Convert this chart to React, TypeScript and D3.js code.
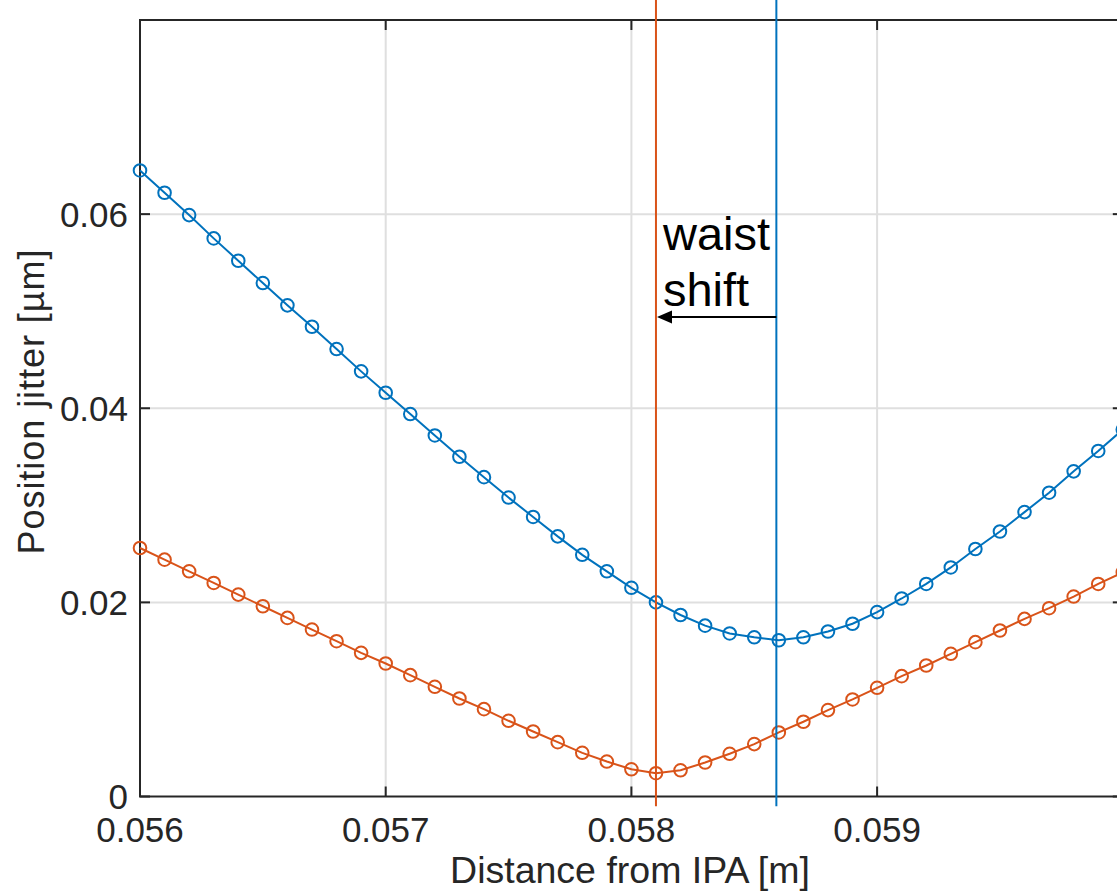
import React, { useEffect } from 'react';
import * as d3 from 'd3';

// distance from IPA [m]
const distances = [
  0.056, 0.0561, 0.0562, 0.0563, 0.0564, 0.0565, 0.0566, 0.0567, 0.0568, 0.0569,
  0.057, 0.0571, 0.0572, 0.0573, 0.0574, 0.0575, 0.0576, 0.0577, 0.0578, 0.0579,
  0.058, 0.0581, 0.0582, 0.0583, 0.0584, 0.0585, 0.0586, 0.0587, 0.0588, 0.0589,
  0.059, 0.0591, 0.0592, 0.0593, 0.0594, 0.0595, 0.0596, 0.0597, 0.0598, 0.0599,
  0.06,
];

// position jitter [µm]
const blueJitter = [
  0.0645, 0.0622, 0.0599, 0.0575, 0.0552, 0.0529, 0.0506, 0.0484, 0.0461, 0.0438,
  0.0416, 0.0394, 0.0372, 0.035, 0.0329, 0.0308, 0.0288, 0.0268, 0.0249, 0.0232,
  0.0215, 0.02, 0.0187, 0.0176, 0.0168, 0.0164, 0.0161, 0.0164, 0.017, 0.0178,
  0.019, 0.0204, 0.0219, 0.0236, 0.0255, 0.0273, 0.0293, 0.0313, 0.0335, 0.0356,
  0.0378,
];

const orangeJitter = [
  0.0256, 0.0244, 0.0232, 0.022, 0.0208, 0.0196, 0.0184, 0.0172, 0.016, 0.0148,
  0.0137, 0.0125, 0.0113, 0.0101, 0.009, 0.0078, 0.0067, 0.0056, 0.0045, 0.0036,
  0.0028, 0.0024, 0.0027, 0.0035, 0.0044, 0.0054, 0.0066, 0.0077, 0.0089, 0.01,
  0.0112, 0.0124, 0.0135, 0.0147, 0.0159, 0.0171, 0.0183, 0.0194, 0.0206, 0.0219,
  0.0231,
];

const xTicks = [0.056, 0.057, 0.058, 0.059];
const yTicks = [0, 0.02, 0.04, 0.06];

// waist positions (vertical lines) and arrow height
const orangeWaist = 0.0581;
const blueWaist = 0.05859;
const arrowY = 0.0494;

const BLUE = '#0072BD';
const ORANGE = '#D95319';
const AXIS = '#262626';
const FONT = '"Liberation Sans", Arial, Helvetica, sans-serif';

const W = 1117;
const H = 893;

export default function App() {
  useEffect(() => {
    document.body.style.margin = '0';
  }, []);

  const x = d3.scaleLinear().domain([0.056, 0.06]).range([140, 1122.8]);
  const y = d3.scaleLinear().domain([0, 0.08]).range([796.5, 20]);

  const [x0, x1] = x.range();
  const [y0, y1] = y.range();

  const line = d3
    .line<number>()
    .x((_, i) => x(distances[i]))
    .y((d) => y(d));

  const series = [
    { values: blueJitter, color: BLUE },
    { values: orangeJitter, color: ORANGE },
  ];

  const tick = 10;

  return (
    <svg width={W} height={H} style={{ display: 'block', background: '#fff' }} fontFamily={FONT}>
      {/* grid */}
      <g stroke="#dfdfdf" strokeWidth={2}>
        {xTicks.slice(1).map((t) => (
          <line key={'gx' + t} x1={x(t)} x2={x(t)} y1={y0} y2={y1} />
        ))}
        {yTicks.slice(1).map((t) => (
          <line key={'gy' + t} x1={x0} x2={x1} y1={y(t)} y2={y(t)} />
        ))}
      </g>

      {/* axes box */}
      <g stroke={AXIS} strokeWidth={2} fill="none">
        <rect x={x0} y={y1} width={x1 - x0} height={y0 - y1} />
        {xTicks.map((t) => (
          <g key={'tx' + t}>
            <line x1={x(t)} x2={x(t)} y1={y0} y2={y0 - tick} />
            <line x1={x(t)} x2={x(t)} y1={y1} y2={y1 + tick} />
          </g>
        ))}
        {yTicks.map((t) => (
          <g key={'ty' + t}>
            <line x1={x0} x2={x0 + tick} y1={y(t)} y2={y(t)} />
            <line x1={x1} x2={x1 - tick} y1={y(t)} y2={y(t)} />
          </g>
        ))}
      </g>

      {/* tick labels */}
      <g fill={AXIS} fontSize={35}>
        {xTicks.map((t) => (
          <text key={'lx' + t} x={x(t)} y={842} textAnchor="middle">
            {d3.format('.3f')(t)}
          </text>
        ))}
        {yTicks.map((t) => (
          <text key={'ly' + t} x={128} y={y(t)} dy="0.36em" textAnchor="end">
            {t === 0 ? '0' : d3.format('.2f')(t)}
          </text>
        ))}
      </g>

      {/* axis labels */}
      <text x={630} y={883} textAnchor="middle" fontSize={37.5} fill={AXIS}>
        Distance from IPA [m]
      </text>
      <text transform="translate(44,402) rotate(-90)" textAnchor="middle" fontSize={36} fill={AXIS}
        textLength={305} lengthAdjust="spacing">
        Position jitter [µm]
      </text>

      {/* series */}
      {series.map((s, si) => (
        <g key={'s' + si}>
          <path d={line(s.values) ?? ''} fill="none" stroke={s.color} strokeWidth={2} />
          {s.values.map((v, i) => (
            <circle key={i} cx={x(distances[i])} cy={y(v)} r={6.3} fill="none" stroke={s.color} strokeWidth={2} />
          ))}
        </g>
      ))}

      {/* waist lines */}
      <line x1={x(orangeWaist)} x2={x(orangeWaist)} y1={y(-0.001)} y2={y(0.0822)} stroke={ORANGE} strokeWidth={2} />
      <line x1={x(blueWaist)} x2={x(blueWaist)} y1={y(-0.001)} y2={y(0.0822)} stroke={BLUE} strokeWidth={2} />

      {/* waist shift arrow */}
      <line x1={x(blueWaist)} x2={x(orangeWaist) + 15} y1={y(arrowY)} y2={y(arrowY)} stroke="#000" strokeWidth={2} />
      <path d={`M${x(orangeWaist) + 1},${y(arrowY)} l15,-6.5 l0,13 Z`} fill="#000" />
      <g fontSize={47} fill="#000">
        <text x={x(orangeWaist) + 7} y={250}>waist</text>
        <text x={x(orangeWaist) + 7} y={306}>shift</text>
      </g>
    </svg>
  );
}
